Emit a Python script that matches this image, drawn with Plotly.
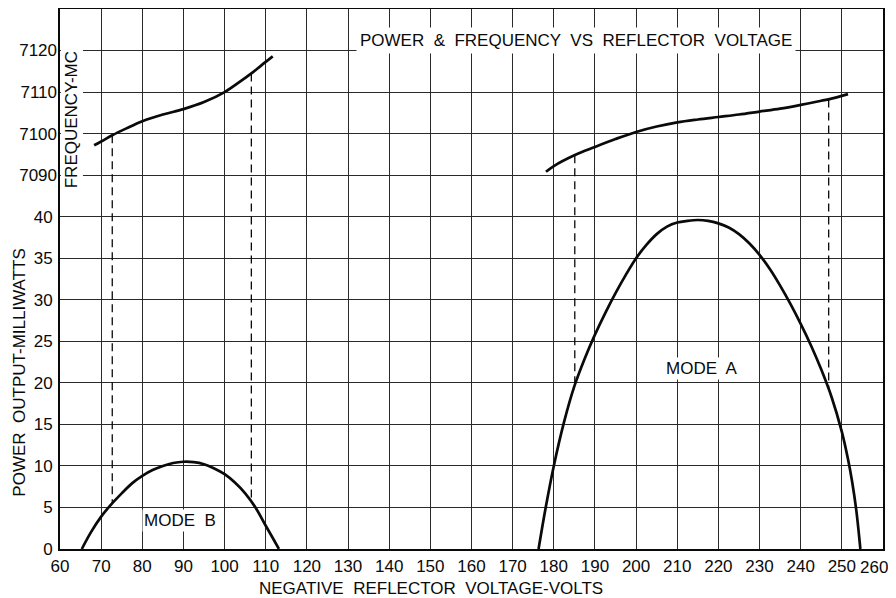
import plotly.graph_objects as go

# ---------------- data ----------------
X_TICKS = list(range(60, 261, 10))
POWER_TICKS = [0, 5, 10, 15, 20, 25, 30, 35, 40]
FREQ_TICKS = [7090, 7100, 7110, 7120]

# Mode B (power, mW)
MODE_B_V = [65.3, 67.5, 70, 72.5, 75, 77.5, 80, 82.5, 85, 87.5, 90, 92.5, 95,
            97.5, 100, 102.5, 105, 107.5, 110, 111.5, 113.2]
MODE_B_P = [0, 2.0, 3.9, 5.4, 6.7, 7.9, 8.8, 9.5, 10.0, 10.35, 10.5, 10.45, 10.2,
            9.7, 9.0, 8.0, 6.7, 5.0, 2.8, 1.5, 0]

# Mode B (frequency, MC)
MODE_B_FV = [68.3, 70, 72.7, 76, 80, 85, 90, 95, 100, 104, 106.5, 109, 111.7]
MODE_B_F = [7097.2, 7098.1, 7099.6, 7101.2, 7103.0, 7104.6, 7105.9, 7107.6,
            7110.0, 7112.7, 7114.5, 7116.5, 7118.6]

# Mode A (power, mW)
MODE_A_V = [176.3, 178, 180, 182.5, 185, 187.5, 190, 192.5, 195, 197.5, 200,
            202.5, 205, 207.5, 210, 212.5, 215, 217.5, 220, 222.5, 225, 227.5,
            230, 232.5, 235, 237.5, 240, 242.5, 245, 247.5, 250, 251.5, 252.5,
            253.5, 254.5]
MODE_A_P = [0, 4.9, 10.0, 15.3, 19.6, 22.9, 25.8, 28.4, 30.8, 33.0, 35.0,
            36.6, 37.9, 38.8, 39.3, 39.5, 39.6, 39.5, 39.2, 38.7, 37.9, 36.8,
            35.4, 33.7, 31.7, 29.5, 27.1, 24.5, 21.6, 18.3, 14.1, 10.8, 8.1,
            4.7, 0]

# Mode A (frequency, MC)
MODE_A_FV = [178.1, 180, 185, 190, 195, 200, 205, 210, 215, 220, 225, 230,
             235, 240, 245, 247, 251.5]
MODE_A_F = [7090.8, 7092.2, 7094.8, 7096.8, 7098.7, 7100.4, 7101.7, 7102.7,
            7103.4, 7104.0, 7104.6, 7105.3, 7106.0, 7106.9, 7107.9, 7108.3, 7109.5]

# Dashed connectors: voltage, frequency at top, power at bottom
DASH_V = [72.7, 106.5, 185.1, 246.8]
DASH_F_TOP = [7099.6, 7114.5, 7094.8, 7108.2]
DASH_P_BOTTOM = [5.5, 5.7, 19.7, 19.3]

# axis ranges (shared grid: 13 rows)
X_RANGE = [60, 260]
P_RANGE = [0, 65]
F_RANGE = [7000, 7130]


def power_on_freq_axis(p):
    return F_RANGE[0] + (p - P_RANGE[0]) * (F_RANGE[1] - F_RANGE[0]) / (P_RANGE[1] - P_RANGE[0])


FONT = "Liberation Sans"
INK = "#0a0a0a"
GRID = "#2a2a2a"

fig = go.Figure()

curve = dict(color=INK, width=2.7, shape="spline", smoothing=1.0)
for xs, ys, ax in [(MODE_B_V, MODE_B_P, "y"), (MODE_A_V, MODE_A_P, "y"),
                   (MODE_B_FV, MODE_B_F, "y2"), (MODE_A_FV, MODE_A_F, "y2")]:
    fig.add_trace(go.Scatter(x=xs, y=ys, mode="lines", line=curve, yaxis=ax,
                             showlegend=False, hoverinfo="skip"))

for v, ftop, pbot in zip(DASH_V, DASH_F_TOP, DASH_P_BOTTOM):
    fig.add_trace(go.Scatter(x=[v, v], y=[ftop, power_on_freq_axis(pbot)],
                             mode="lines", yaxis="y2",
                             line=dict(color=INK, width=1.3, dash="8px,5px"),
                             showlegend=False, hoverinfo="skip"))

power_grid = list(range(P_RANGE[0], P_RANGE[1] + 1, 5))
power_text = [str(v) if v in POWER_TICKS else "" for v in power_grid]
# last x label is drawn separately (nudged left so it stays inside the window)
x_text = [str(v) for v in X_TICKS[:-1]] + [""]

# The page body has an 8px default margin, so the figure is sized to fit inside it.
fig.update_layout(
    width=888, height=590,
    margin=dict(l=52, r=13, t=1, b=49, autoexpand=False),
    paper_bgcolor="white", plot_bgcolor="white",
    font=dict(family=FONT, size=17, color=INK),
    xaxis=dict(range=X_RANGE, tickvals=X_TICKS, ticktext=x_text,
               showgrid=True, gridcolor=GRID, gridwidth=1.2, automargin=False,
               showline=True, linecolor=INK, linewidth=2, mirror=True,
               ticklabeloverflow="allow",
               ticks="", zeroline=False, tickfont=dict(size=17), ticklabelstandoff=1),
    yaxis=dict(range=P_RANGE, tickvals=power_grid, ticktext=power_text,
               showgrid=True, gridcolor=GRID, gridwidth=1.2, automargin=False,
               showline=True, linecolor=INK, linewidth=2, mirror=True,
               ticklabeloverflow="allow",
               ticks="", zeroline=False, tickfont=dict(size=17), ticklabelstandoff=2),
    yaxis2=dict(range=F_RANGE, tickvals=FREQ_TICKS, ticktext=[str(v) for v in FREQ_TICKS],
                overlaying="y", side="left", anchor="x", showgrid=False, automargin=False,
                ticklabeloverflow="allow",
                ticks="", zeroline=False, showline=False,
                tickfont=dict(size=17), ticklabelstandoff=2),
)

C = dict(xanchor="center", yanchor="middle", showarrow=False)
ann = []
ann.append(dict(text=str(X_TICKS[-1]), x=X_TICKS[-1], y=-0.0345, xref="x", yref="paper",
                xshift=-9, font=dict(size=17), **C))
ann.append(dict(text="POWER  &  FREQUENCY  VS  REFLECTOR  VOLTAGE", x=185.5, y=0.941,
                xref="x", yref="paper", bgcolor="white", font=dict(size=17),
                borderpad=3, **C))
ann.append(dict(text="NEGATIVE  REFLECTOR  VOLTAGE-VOLTS", x=0.451, y=-0.074,
                xref="paper", yref="paper", font=dict(size=17), **C))
ann.append(dict(text="POWER  OUTPUT-MILLIWATTS", x=-0.049, y=0.326,
                xref="paper", yref="paper", textangle=-90, font=dict(size=17), **C))
ann.append(dict(text="FREQUENCY-MC", x=63.0, y=7103.3, xref="x", yref="y2",
                textangle=-90, font=dict(size=17), bgcolor="white", **C))
ann.append(dict(text="MODE  A", x=216.0, y=21.7, xref="x", yref="y",
                font=dict(size=17), bgcolor="white", **C))
ann.append(dict(text="MODE  B", x=89.2, y=3.4, xref="x", yref="y",
                font=dict(size=17), bgcolor="white", **C))
fig.update_layout(annotations=ann)

fig.write_html("out.html")
